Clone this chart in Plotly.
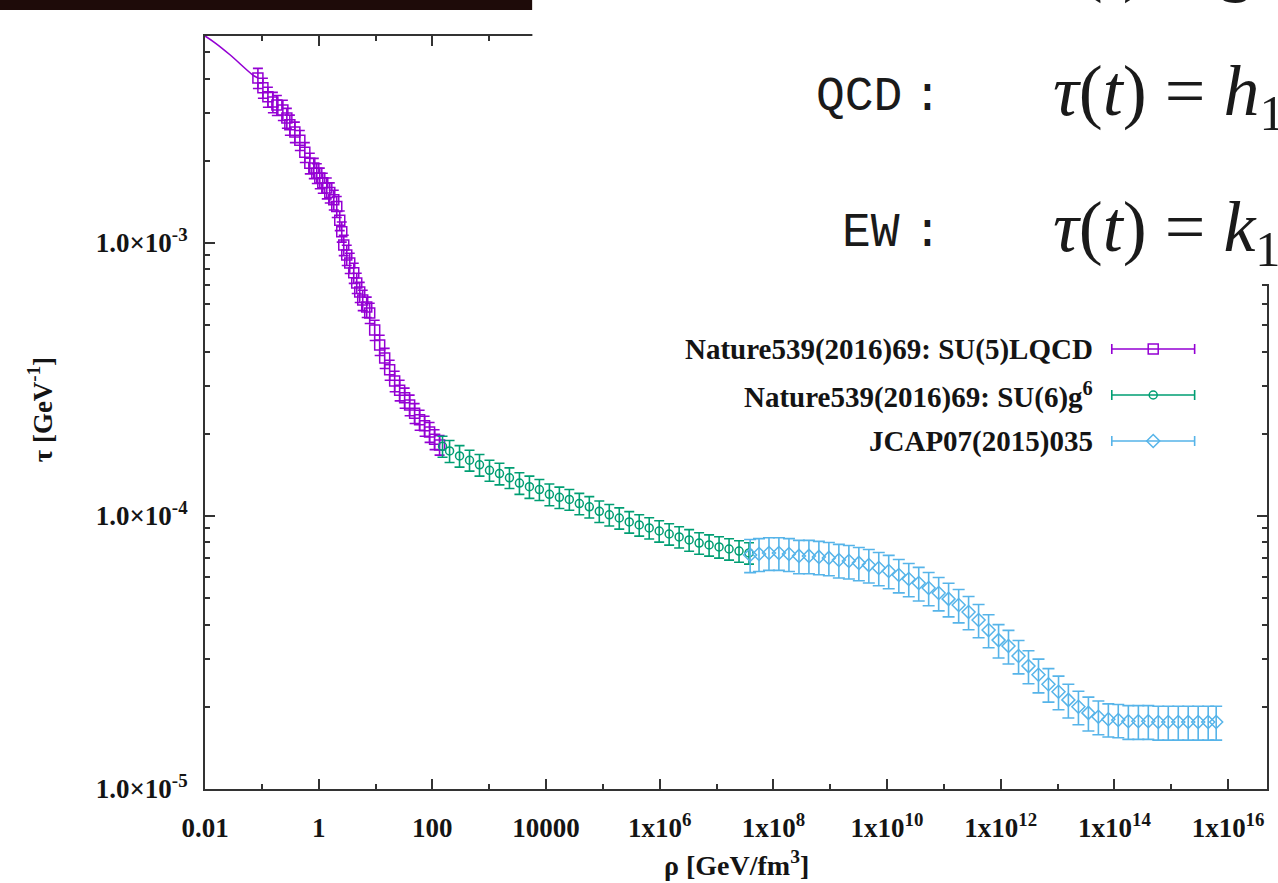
import plotly.graph_objects as go

# ---------------- data ----------------
lqcd_rho = [0.0853, 0.1044, 0.1278, 0.1564, 0.1838, 0.2344, 0.2755, 0.3111, 0.3807, 0.4660,
            0.5704, 0.6982, 0.8209, 0.9268, 1.046, 1.181, 1.389, 1.568, 1.843, 2.080,
            2.349, 2.547, 2.761, 3.117, 3.520, 4.139, 4.672, 5.275, 5.956, 7.000,
            7.904, 9.674, 11.84, 14.50, 17.74, 21.72, 26.59, 32.54, 39.83, 48.76,
            59.68, 73.05, 89.43, 109.5, 134.0]
lqcd_tau = [4.02e-3, 3.70e-3, 3.43e-3, 3.28e-3, 3.20e-3, 3.07e-3, 2.87e-3, 2.71e-3, 2.55e-3, 2.38e-3,
            2.15e-3, 1.96e-3, 1.88e-3, 1.80e-3, 1.73e-3, 1.66e-3, 1.59e-3, 1.53e-3, 1.44e-3, 1.36e-3,
            1.21e-3, 1.10e-3, 9.83e-4, 9.04e-4, 8.45e-4, 7.77e-4, 7.14e-4, 6.61e-4, 6.18e-4, 5.83e-4,
            5.54e-4, 4.80e-4, 4.23e-4, 3.79e-4, 3.43e-4, 3.12e-4, 2.89e-4, 2.71e-4, 2.55e-4, 2.38e-4,
            2.25e-4, 2.14e-4, 2.03e-4, 1.91e-4, 1.82e-4]
lqcd_err = [3.4e-4, 3.1e-4, 2.9e-4, 2.8e-4, 2.7e-4, 2.6e-4, 2.4e-4, 2.3e-4, 2.2e-4, 2.0e-4,
            1.8e-4, 1.7e-4, 1.6e-4, 1.5e-4, 1.5e-4, 1.4e-4, 1.4e-4, 1.3e-4, 1.2e-4, 1.2e-4,
            1.0e-4, 9.3e-5, 8.4e-5, 7.7e-5, 7.2e-5, 6.6e-5, 6.1e-5, 5.6e-5, 5.3e-5, 5.0e-5,
            4.7e-5, 4.1e-5, 3.6e-5, 3.2e-5, 2.9e-5, 2.7e-5, 2.5e-5, 2.3e-5, 2.2e-5, 2.0e-5,
            1.9e-5, 1.8e-5, 1.7e-5, 1.6e-5, 1.5e-5]

low_rho = [0.01, 0.015, 0.0275, 0.0697, 0.0853]
low_tau = [5.73e-3, 5.41e-3, 4.89e-3, 4.12e-3, 4.02e-3]

g6_rho = [151, 200.9, 300.9, 450.9, 675.5, 1012, 1517, 2273, 3405, 5104,
          7643, 1.146e4, 1.717e4, 2.572e4, 3.854e4, 5.774e4, 8.652e4, 1.297e5, 1.943e5, 2.911e5,
          4.362e5, 6.535e5, 9.793e5, 1.467e6, 2.198e6, 3.295e6, 4.936e6, 7.396e6, 1.108e7, 1.661e7,
          2.488e7, 3.728e7]
g6_tau = [1.80e-4, 1.73e-4, 1.66e-4, 1.60e-4, 1.54e-4, 1.47e-4, 1.43e-4, 1.38e-4, 1.32e-4, 1.28e-4,
          1.25e-4, 1.20e-4, 1.17e-4, 1.15e-4, 1.11e-4, 1.08e-4, 1.04e-4, 1.01e-4, 9.83e-5, 9.51e-5,
          9.27e-5, 9.04e-5, 8.81e-5, 8.59e-5, 8.38e-5, 8.17e-5, 7.96e-5, 7.83e-5, 7.70e-5, 7.57e-5,
          7.44e-5, 7.32e-5]
g6_err = [1.6e-5, 1.6e-5, 1.5e-5, 1.4e-5, 1.4e-5, 1.3e-5, 1.3e-5, 1.2e-5, 1.2e-5, 1.2e-5,
          1.1e-5, 1.1e-5, 1.05e-5, 1.0e-5, 1.0e-5, 9.7e-6, 9.4e-6, 9.1e-6, 8.8e-6, 8.6e-6,
          8.3e-6, 8.1e-6, 7.9e-6, 7.7e-6, 7.5e-6, 7.4e-6, 7.2e-6, 7.0e-6, 6.9e-6, 6.8e-6,
          6.7e-6, 6.6e-6]

jcap_rho = [3.9e7, 5.59e7, 8.37e7, 1.25e8, 1.88e8, 2.82e8, 4.22e8, 6.32e8, 9.47e8, 1.42e9,
            2.13e9, 3.19e9, 4.78e9, 7.15e9, 1.07e10, 1.61e10, 2.41e10, 3.61e10, 5.40e10, 8.10e10,
            1.21e11, 1.82e11, 2.72e11, 4.08e11, 6.12e11, 9.17e11, 1.37e12, 2.06e12, 3.08e12, 4.62e12,
            6.92e12, 1.04e13, 1.55e13, 2.33e13, 3.49e13, 5.23e13, 7.83e13, 1.17e14, 1.76e14, 2.64e14,
            3.95e14, 5.92e14, 8.87e14, 1.33e15, 1.99e15, 2.98e15, 4.47e15, 6.18e15]
jcap_tau = [7.20e-5, 7.26e-5, 7.32e-5, 7.32e-5, 7.26e-5, 7.14e-5, 7.14e-5, 7.08e-5, 7.02e-5, 6.90e-5,
            6.84e-5, 6.73e-5, 6.61e-5, 6.45e-5, 6.29e-5, 6.08e-5, 5.88e-5, 5.68e-5, 5.45e-5, 5.22e-5,
            4.97e-5, 4.72e-5, 4.45e-5, 4.16e-5, 3.82e-5, 3.51e-5, 3.34e-5, 3.07e-5, 2.82e-5, 2.62e-5,
            2.42e-5, 2.27e-5, 2.12e-5, 2.00e-5, 1.90e-5, 1.84e-5, 1.80e-5, 1.79e-5, 1.77e-5, 1.77e-5,
            1.77e-5, 1.76e-5, 1.76e-5, 1.76e-5, 1.76e-5, 1.76e-5, 1.76e-5, 1.76e-5]
jcap_err = [1.0e-5, 1.0e-5, 1.0e-5, 1.0e-5, 1.0e-5, 1.0e-5, 1.0e-5, 9.9e-6, 9.8e-6, 9.7e-6,
            9.6e-6, 9.4e-6, 9.3e-6, 9.0e-6, 8.8e-6, 8.5e-6, 8.2e-6, 8.0e-6, 7.6e-6, 7.3e-6,
            7.0e-6, 6.6e-6, 6.2e-6, 5.8e-6, 5.3e-6, 4.9e-6, 4.7e-6, 4.3e-6, 3.9e-6, 3.7e-6,
            3.4e-6, 3.2e-6, 3.0e-6, 2.8e-6, 2.7e-6, 2.6e-6, 2.5e-6, 2.5e-6, 2.5e-6, 2.5e-6,
            2.5e-6, 2.5e-6, 2.5e-6, 2.5e-6, 2.5e-6, 2.5e-6, 2.5e-6, 2.5e-6]

series_names = ["Nature539(2016)69: SU(5)LQCD",
                "Nature539(2016)69: SU(6)g<sup>6</sup>",
                "JCAP07(2015)035"]

x_tickvals = [1e-2, 1, 1e2, 1e4, 1e6, 1e8, 1e10, 1e12, 1e14, 1e16]
x_ticktext = ["0.01", "1", "100", "10000", "1x10<sup>6</sup>", "1x10<sup>8</sup>",
              "1x10<sup>10</sup>", "1x10<sup>12</sup>", "1x10<sup>14</sup>", "1x10<sup>16</sup>"]
x_minor = [1e-1, 1e1, 1e3, 1e5, 1e7, 1e9, 1e11, 1e13, 1e15]
y_tickvals = [1e-5, 1e-4, 1e-3]
y_ticktext = ["1.0×10<sup>-5</sup>", "1.0×10<sup>-4</sup>", "1.0×10<sup>-3</sup>"]
y_minor = [2e-5, 3e-5, 4e-5, 5e-5, 6e-5, 7e-5, 8e-5, 9e-5,
           2e-4, 3e-4, 4e-4, 5e-4, 6e-4, 7e-4, 8e-4, 9e-4,
           2e-3, 3e-3, 4e-3, 5e-3]

# ---------------- styling ----------------
W, H = 1278, 883
L, R, T, B = 205, 1269, 36, 789          # plot-area pixel box
PURPLE, GREEN, CYAN = "#9400d3", "#009e73", "#56b4e9"
SERIF = "Liberation Serif"
TXT = "#141414"


def px(xp):
    return (xp - L) / (R - L)


def py(yp):
    return (B - yp) / (B - T)


fig = go.Figure()

fig.add_trace(go.Scatter(x=low_rho, y=low_tau, mode="lines", line=dict(color=PURPLE, width=1.6, shape="spline"),
                         showlegend=False, hoverinfo="skip"))

specs = [
    (lqcd_rho, lqcd_tau, lqcd_err, PURPLE, "square-open", 10, 5),
    (g6_rho, g6_tau, g6_err, GREEN, "circle-open", 8, 5),
    (jcap_rho, jcap_tau, jcap_err, CYAN, "diamond-open", 10, 6),
]
for (xs, ys, es, col, sym, ms, cw), name in zip(specs, series_names):
    fig.add_trace(go.Scatter(
        x=xs, y=ys, mode="markers", name=name, showlegend=False,
        marker=dict(symbol=sym, size=ms, color=col, line=dict(color=col, width=1.5)),
        error_y=dict(type="data", array=es, visible=True, color=col, thickness=1.6, width=cw),
    ))

# manual gnuplot-style key (text right-aligned, sample on the right)
key_rows = [349, 395, 441]
for (xs, ys, es, col, sym, ms, cw), name, yr in zip(specs, series_names, key_rows):
    fig.add_annotation(xref="paper", yref="paper", x=px(1097), y=py(yr), text="<b>" + name + "</b>",
                       showarrow=False, xanchor="right", yanchor="middle",
                       font=dict(family=SERIF, size=29, color=TXT))
    fig.add_trace(go.Scatter(
        x=[px(1155)], y=[py(yr)], xaxis="x2", yaxis="y2", mode="markers", showlegend=False, hoverinfo="skip",
        marker=dict(symbol=sym, size=ms, color=col, line=dict(color=col, width=1.5)),
        error_x=dict(type="constant", value=41.5 / (R - L), visible=True, color=col, thickness=1.6, width=5),
    ))

axis_common = dict(showgrid=False, zeroline=False, showline=True, linecolor="#333333", linewidth=2,
                   mirror="ticks", ticks="inside", ticklen=10, tickwidth=1.5, tickcolor="#333333",
                   tickfont=dict(family=SERIF, size=27, color=TXT, weight="bold"))

fig.update_layout(
    width=W, height=H, autosize=False,
    margin=dict(l=L, r=W - R, t=T, b=H - B, pad=0),
    paper_bgcolor="white", plot_bgcolor="white",
    showlegend=False,
    xaxis=dict(type="log", range=[-2, 16.685], tickmode="array", tickvals=x_tickvals, ticktext=x_ticktext,
               ticklabelstandoff=14,
               minor=dict(tickmode="array", tickvals=x_minor, ticks="inside", ticklen=5, tickwidth=1.5,
                          tickcolor="#333333", showgrid=False),
               **axis_common),
    yaxis=dict(type="log", range=[-5, -2.242], tickmode="array", tickvals=y_tickvals, ticktext=y_ticktext,
               ticklabelstandoff=10,
               minor=dict(tickmode="array", tickvals=y_minor, ticks="inside", ticklen=5, tickwidth=1.5,
                          tickcolor="#333333", showgrid=False),
               **axis_common),
    xaxis2=dict(overlaying="x", range=[0, 1], visible=False, anchor="y2"),
    yaxis2=dict(overlaying="y", range=[0, 1], visible=False, anchor="x2"),
)

# axis titles
fig.add_annotation(xref="paper", yref="paper", x=px(737), y=py(864), yanchor="middle",
                   text="<b>ρ [GeV/fm<sup>3</sup>]</b>", showarrow=False,
                   font=dict(family=SERIF, size=28, color=TXT))
fig.add_annotation(xref="paper", yref="paper", x=px(40), y=py(410), xanchor="center", yanchor="middle",
                   text="<b>τ [GeV<sup>-1</sup>]</b>", showarrow=False, textangle=-90,
                   font=dict(family=SERIF, size=27, color=TXT))

# slide decorations: dark bar and the white equation panel covering the top-right
fig.add_shape(type="rect", xref="paper", yref="paper", x0=px(-5), x1=px(533), y0=py(10), y1=py(-5),
              fillcolor="#1e0b09", line=dict(width=0), layer="above")
fig.add_shape(type="rect", xref="paper", yref="paper", x0=px(533), x1=px(1290), y0=py(284), y1=py(-5),
              fillcolor="white", line=dict(width=0), layer="above")

MATH = "Liberation Serif"
MONO = "Liberation Mono"
INK = "#1a1a1a"
fig.add_annotation(xref="paper", yref="paper", x=px(815), y=py(97), xanchor="left", yanchor="middle",
                   text="QCD", showarrow=False, font=dict(family=MONO, size=48, color=INK))
fig.add_annotation(xref="paper", yref="paper", x=px(841), y=py(233), xanchor="left", yanchor="middle",
                   text="EW", showarrow=False, font=dict(family=MONO, size=48, color=INK))
for yc in (97, 233):
    fig.add_annotation(xref="paper", yref="paper", x=px(929), y=py(yc), xanchor="center", yanchor="middle",
                       text=":", showarrow=False, font=dict(family=MONO, size=48, color=INK))
fig.add_annotation(xref="paper", yref="paper", x=px(1053), y=py(96), xanchor="left", yanchor="middle",
                   text="<i>τ</i>(<i>t</i>) = <i>h</i><sub>1</sub>", showarrow=False,
                   font=dict(family=MATH, size=72, color=INK))
fig.add_annotation(xref="paper", yref="paper", x=px(1053), y=py(232), xanchor="left", yanchor="middle",
                   text="<i>τ</i>(<i>t</i>) = <i>k</i><sub>1</sub>", showarrow=False,
                   font=dict(family=MATH, size=72, color=INK))
fig.add_annotation(xref="paper", yref="paper", x=px(1053), y=py(-36), xanchor="left", yanchor="middle",
                   text="<i>τ</i>(<i>t</i>) = <i>g</i>", showarrow=False,
                   font=dict(family=MATH, size=72, color=INK))

fig.write_html("out.html")
